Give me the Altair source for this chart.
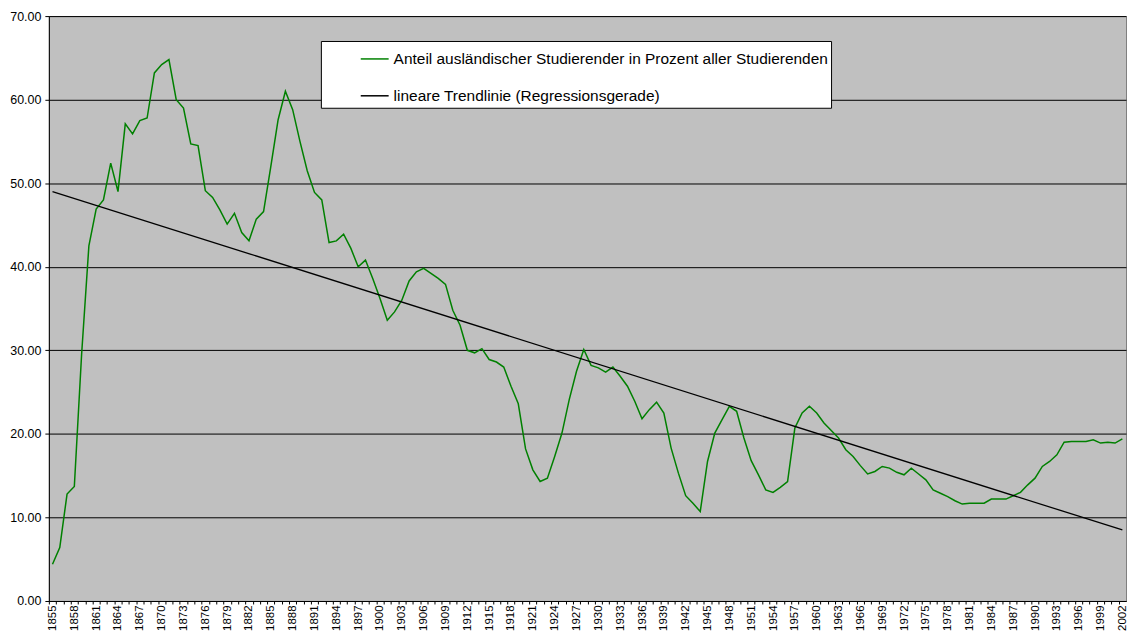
import altair as alt
import pandas as pd

years = list(range(1855, 2003))
share = [
    4.4, 6.4, 12.8, 13.7, 29.5, 42.5, 46.9, 48.0, 52.4, 49.0,
    57.1, 55.9, 57.5, 57.8, 63.2, 64.2, 64.8, 60.0, 59.0, 54.7,
    54.5, 49.1, 48.3, 46.8, 45.1, 46.4, 44.1, 43.1, 45.7, 46.6,
    52.0, 57.6, 61.0, 58.8, 55.0, 51.5, 48.9, 48.0, 42.9, 43.1,
    43.9, 42.2, 40.0, 40.8, 38.6, 36.2, 33.6, 34.6, 36.0, 38.3,
    39.4, 39.8, 39.2, 38.6, 37.9, 34.8, 33.0, 30.0, 29.7, 30.2,
    28.9, 28.6, 28.0, 25.7, 23.6, 18.2, 15.7, 14.3, 14.7, 17.3,
    20.1, 24.1, 27.5, 30.1, 28.2, 27.9, 27.4, 28.0, 26.9, 25.7,
    23.9, 21.8, 22.9, 23.8, 22.5, 18.3, 15.3, 12.6, 11.7, 10.7,
    16.7, 20.1, 21.7, 23.3, 22.7, 19.5, 16.8, 15.1, 13.3, 13.0,
    13.6, 14.3, 20.7, 22.5, 23.3, 22.5, 21.3, 20.4, 19.5, 18.1,
    17.3, 16.2, 15.2, 15.5, 16.1, 15.9, 15.4, 15.1, 15.9, 15.2,
    14.5, 13.3, 12.9, 12.5, 12.0, 11.6, 11.7, 11.7, 11.7, 12.2,
    12.2, 12.2, 12.6, 13.0, 13.9, 14.7, 16.1, 16.7, 17.5, 19.0,
    19.1, 19.1, 19.1, 19.3, 18.9, 19.0, 18.9, 19.4,
]
trend_years = [1855, 2002]
trend_values = [49.0, 8.5]
y_ticks = [0, 10, 20, 30, 40, 50, 60, 70]

SERIES = "Anteil ausländischer Studierender in Prozent aller Studierenden"
TREND = "lineare Trendlinie (Regressionsgerade)"

df = pd.DataFrame({"Jahr": years, "Wert": share, "Reihe": SERIES})
tf = pd.DataFrame({"Jahr": trend_years, "Wert": trend_values, "Reihe": TREND})

FONT = "Liberation Sans, Arial, sans-serif"
W, H = 1081, 587
half_step = W / len(years) / 2

x_enc = alt.X(
    "Jahr:O",
    scale=alt.Scale(type="point", domain=years, padding=0.5),
    axis=alt.Axis(
        title=None,
        labelAngle=270,
        labelExpr="datum.value % 3 == 1 ? datum.label : ''",
        labelOverlap=False,
        labelFont=FONT,
        labelFontSize=11.5,
        labelColor="black",
        labelPadding=1,
        tickSize=3,
        tickColor="black",
        domainColor="black",
        tickOffset=-half_step,
        labelOffset=half_step,
        grid=False,
    ),
)
y_enc = alt.Y(
    "Wert:Q",
    scale=alt.Scale(domain=[0, 70], nice=False, zero=True),
    axis=alt.Axis(
        title=None,
        values=y_ticks,
        format=".2f",
        grid=True,
        gridColor="black",
        gridOpacity=1,
        gridWidth=1,
        tickSize=4,
        tickColor="black",
        domainColor="black",
        labelPadding=4,
        labelFont=FONT,
        labelFontSize=12.5,
        labelColor="black",
    ),
)
color_enc = alt.Color(
    "Reihe:N",
    scale=alt.Scale(domain=[SERIES, TREND], range=["#008000", "#000000"]),
    legend=alt.Legend(
        title=None,
        orient="none",
        legendX=273,
        legendY=25,
        direction="vertical",
        fillColor="white",
        strokeColor="black",
        padding=3,
        symbolType="stroke",
        symbolSize=784,
        symbolStrokeWidth=1.5,
        symbolOffset=36,
        labelOffset=4,
        labelFont=FONT,
        labelFontSize=15.5,
        labelColor="black",
        labelLimit=800,
        rowPadding=13,
    ),
)

green = alt.Chart(df).mark_line(strokeWidth=1.5).encode(x=x_enc, y=y_enc, color=color_enc)
trend = alt.Chart(tf).mark_line(strokeWidth=1.3).encode(x=x_enc, y=y_enc, color=color_enc)

chart = (
    alt.layer(green, trend)
    .properties(
        width=W,
        height=H,
        autosize=alt.AutoSizeParams(type="none"),
        padding={"left": 41, "top": 7, "right": 2, "bottom": 30},
        background="white",
    )
    .configure_view(fill="#C0C0C0", stroke="#808080", strokeWidth=1)
)

chart.save("out.html", embed_options={"renderer": "svg", "actions": False})
